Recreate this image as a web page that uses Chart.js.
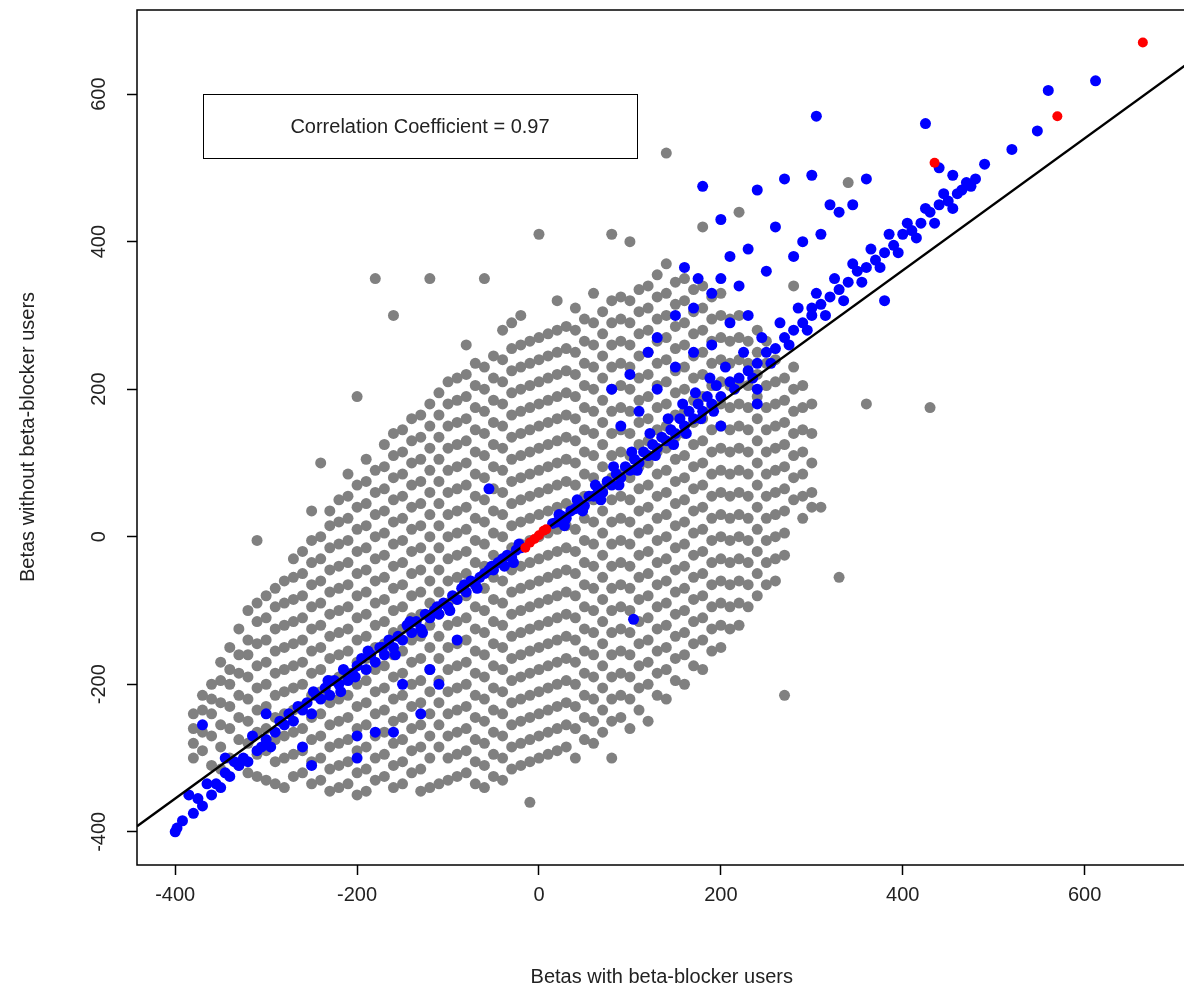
<!DOCTYPE html>
<html>
<head>
<meta charset="utf-8">
<script src="https://cdn.jsdelivr.net/npm/chart.js@4"></script>
<style>
  html, body { margin: 0; padding: 0; background: #fff; overflow: hidden; }
  #wrap { width: 1184px; height: 993px; overflow: hidden; }
</style>
</head>
<body>
<div id="wrap"><canvas id="betaChart" width="1192" height="993"></canvas></div>
<script>
// grey cloud: each row is [x, y1, y2, ...]
var greyColumns = [
  [-380, -300, -280, -260, -240],
  [-360, -310, -270, -240, -220, -200],
  [-340, -300, -260, -230, -200, -180, -150],
  [-320, -320, -280, -250, -220, -190, -160, -140, -100],
  [-300, -330, -290, -260, -230, -200, -170, -140, -110, -80],
  [-280, -340, -300, -270, -240, -210, -180, -150, -120, -90, -60],
  [-260, -320, -290, -260, -230, -200, -170, -140, -110, -80, -50, -20],
  [-240, -330, -300, -270, -240, -210, -180, -150, -120, -90, -60, -30, 0, 100],
  [-220, -340, -310, -280, -250, -220, -190, -160, -130, -100, -70, -40, -10, 20, 50],
  [-200, -350, -320, -290, -260, -230, -200, -170, -140, -110, -80, -50, -20, 10, 40, 70, 190],
  [-180, -330, -300, -270, -240, -210, -180, -150, -120, -90, -60, -30, 0, 30, 60, 90, 350],
  [-160, -340, -310, -280, -250, -220, -190, -160, -130, -100, -70, -40, -10, 20, 50, 80, 110, 140, 300],
  [-140, -320, -290, -260, -230, -200, -170, -140, -110, -80, -50, -20, 10, 40, 70, 100, 130, 160],
  [-120, -340, -300, -270, -240, -210, -180, -150, -120, -90, -60, -30, 0, 30, 60, 90, 120, 150, 180, 350],
  [-100, -330, -300, -270, -240, -210, -180, -150, -120, -90, -60, -30, 0, 30, 60, 90, 120, 150, 180, 210],
  [-80, -320, -290, -260, -230, -200, -170, -140, -110, -80, -50, -20, 10, 40, 70, 100, 130, 160, 190, 220, 260],
  [-60, -340, -310, -280, -250, -220, -190, -160, -130, -100, -70, -40, -10, 20, 50, 80, 110, 140, 170, 200, 230, 350],
  [-40, -330, -300, -270, -240, -210, -180, -150, -120, -90, -60, -30, 0, 30, 60, 90, 120, 150, 180, 210, 240, 280],
  [-20, -310, -280, -250, -220, -190, -160, -130, -100, -70, -40, -10, 20, 50, 80, 110, 140, 170, 200, 230, 260, 300],
  [0, -300, -270, -240, -210, -180, -150, -120, -90, -60, -30, 0, 30, 60, 90, 120, 150, 180, 210, 240, 270, 410],
  [20, -290, -260, -230, -200, -170, -140, -110, -80, -50, -20, 10, 40, 70, 100, 130, 160, 190, 220, 250, 280, 320],
  [40, -300, -260, -230, -200, -170, -140, -110, -80, -50, -20, 10, 40, 70, 100, 130, 160, 190, 220, 250, 280, 310],
  [60, -280, -250, -220, -190, -160, -130, -100, -70, -40, -10, 20, 50, 80, 110, 140, 170, 200, 230, 260, 290, 330],
  [80, -300, -250, -220, -190, -160, -130, -100, -70, -40, -10, 20, 50, 80, 110, 140, 170, 200, 230, 260, 290, 320, 410],
  [100, -260, -220, -190, -160, -130, -100, -70, -40, -10, 20, 50, 80, 110, 140, 170, 200, 230, 260, 290, 320, 400],
  [120, -250, -200, -170, -140, -110, -80, -50, -20, 10, 40, 70, 100, 130, 160, 190, 220, 250, 280, 310, 340],
  [140, -220, -180, -150, -120, -90, -60, -30, 0, 30, 60, 90, 120, 150, 180, 210, 240, 270, 300, 330, 370, 520],
  [160, -200, -160, -130, -100, -70, -40, -10, 20, 50, 80, 110, 140, 170, 200, 230, 260, 290, 320, 350],
  [180, -180, -140, -110, -80, -50, -20, 10, 40, 70, 100, 130, 160, 190, 220, 250, 280, 310, 340, 420],
  [200, -150, -120, -90, -60, -30, 0, 30, 60, 90, 120, 150, 180, 210, 240, 270, 300, 330],
  [220, -120, -90, -60, -30, 0, 30, 60, 90, 120, 150, 180, 210, 240, 270, 300, 440],
  [240, -80, -50, -20, 10, 40, 70, 100, 130, 160, 190, 220, 250, 280],
  [260, -60, -30, 0, 30, 60, 90, 120, 150, 180, 210, 240],
  [280, 50, 80, 110, 140, 170, 200, 230, 340],
  [300, 40, 60, 100, 140, 180]
];
// in-between columns that fill the gaps of the cloud
var greyColumnsB = [
  [-370, -290, -265, -235, -215],
  [-350, -315, -285, -255, -225, -195, -170],
  [-330, -310, -275, -245, -215, -185, -160, -125],
  [-310, -325, -295, -265, -235, -205, -175, -145, -115, -90],
  [-290, -335, -305, -275, -245, -215, -185, -155, -125, -95, -70],
  [-270, -325, -295, -265, -235, -205, -175, -145, -115, -85, -55, -30],
  [-250, -335, -305, -275, -245, -215, -185, -155, -125, -95, -65, -35, -5],
  [-230, -345, -315, -285, -255, -225, -195, -165, -135, -105, -75, -45, -15, 15, 35],
  [-210, -335, -305, -275, -245, -215, -185, -155, -125, -95, -65, -35, -5, 25, 55, 85],
  [-190, -345, -315, -285, -255, -225, -195, -165, -135, -105, -75, -45, -15, 15, 45, 75, 105],
  [-170, -325, -295, -265, -235, -205, -175, -145, -115, -85, -55, -25, 5, 35, 65, 95, 125],
  [-150, -335, -305, -275, -245, -215, -185, -155, -125, -95, -65, -35, -5, 25, 55, 85, 115, 145],
  [-130, -345, -315, -285, -255, -225, -195, -165, -135, -105, -75, -45, -15, 15, 45, 75, 105, 135, 165],
  [-110, -335, -285, -255, -225, -195, -165, -135, -105, -75, -45, -15, 15, 45, 75, 105, 135, 165, 195],
  [-90, -325, -295, -265, -235, -205, -175, -145, -115, -85, -55, -25, 5, 35, 65, 95, 125, 155, 185, 215],
  [-70, -335, -305, -275, -245, -215, -185, -155, -125, -95, -65, -35, -5, 25, 55, 85, 115, 145, 175, 205, 235],
  [-50, -325, -295, -265, -235, -205, -175, -145, -115, -85, -55, -25, 5, 35, 65, 95, 125, 155, 185, 215, 245],
  [-30, -315, -285, -255, -225, -195, -165, -135, -105, -75, -45, -15, 15, 45, 75, 105, 135, 165, 195, 225, 255, 290],
  [-10, -305, -275, -245, -215, -185, -155, -125, -95, -65, -35, -5, 25, 55, 85, 115, 145, 175, 205, 235, 265],
  [10, -295, -265, -235, -205, -175, -145, -115, -85, -55, -25, 5, 35, 65, 95, 125, 155, 185, 215, 245, 275],
  [30, -285, -255, -225, -195, -165, -135, -105, -75, -45, -15, 15, 45, 75, 105, 135, 165, 195, 225, 255, 285],
  [50, -275, -245, -215, -185, -155, -125, -95, -65, -35, -5, 25, 55, 85, 115, 145, 175, 205, 235, 265, 295],
  [70, -265, -235, -205, -175, -145, -115, -85, -55, -25, 5, 35, 65, 95, 125, 155, 185, 215, 245, 275, 305],
  [90, -245, -215, -185, -155, -125, -95, -65, -35, -5, 25, 55, 85, 115, 145, 175, 205, 235, 265, 295, 325],
  [110, -235, -205, -175, -145, -115, -85, -55, -25, 5, 35, 65, 95, 125, 155, 185, 215, 245, 275, 305, 335],
  [130, -215, -185, -155, -125, -95, -65, -35, -5, 25, 55, 85, 115, 145, 175, 205, 235, 265, 295, 325, 355],
  [150, -195, -165, -135, -105, -75, -45, -15, 15, 45, 75, 105, 135, 165, 195, 225, 255, 285, 315, 345],
  [170, -175, -145, -115, -85, -55, -25, 5, 35, 65, 95, 125, 155, 185, 215, 245, 275, 305, 335],
  [190, -155, -125, -95, -65, -35, -5, 25, 55, 85, 115, 145, 175, 205, 235, 265, 295, 325],
  [210, -125, -95, -65, -35, -5, 25, 55, 85, 115, 145, 175, 205, 235, 265, 295],
  [230, -95, -65, -35, -5, 25, 55, 85, 115, 145, 175, 205, 235, 265],
  [250, -65, -35, -5, 25, 55, 85, 115, 145, 175, 205, 235, 265],
  [270, -25, 5, 35, 65, 95, 125, 155, 185, 215],
  [290, 25, 55, 85, 115, 145, 175, 205]
];
var greyExtra = [
  [270, -215], [330, -55], [310, 40], [360, 180], [430, 175], [340, 480], [-310, -5], [-250, 35], [-10, -360]
];
var bluePoints = [
  [-400, -400], [-398, -395], [-392, -385], [-380, -375], [-375, -355], [-370, -365], [-360, -350], [-355, -335],
  [-350, -340], [-345, -320], [-340, -325], [-330, -310], [-325, -300], [-320, -305], [-310, -290], [-300, -275],
  [-295, -285], [-290, -265], [-280, -255], [-275, -240], [-270, -250], [-260, -235], [-255, -225], [-250, -240],
  [-245, -215], [-240, -220], [-235, -205], [-230, -215], [-225, -195], [-220, -200], [-215, -180], [-210, -195],
  [-205, -185], [-200, -175], [-195, -165], [-190, -180], [-185, -160], [-180, -170], [-175, -150], [-170, -160],
  [-165, -140], [-160, -150], [-155, -135], [-150, -140], [-145, -120], [-140, -130], [-135, -115], [-130, -125],
  [-125, -105], [-120, -110], [-115, -100], [-110, -105], [-105, -90], [-100, -95], [-95, -80], [-90, -85],
  [-85, -70], [-80, -75], [-75, -60], [-70, -65], [-65, -55], [-60, -50], [-55, -45], [-50, -45], [-45, -35],
  [-40, -30], [-35, -25], [-30, -28], [-25, -18], [-20, -15], [15, 18], [20, 20], [25, 28], [30, 25], [35, 35],
  [40, 38], [45, 45], [50, 42], [55, 55], [60, 55], [65, 65], [70, 60], [75, 75], [80, 70], [85, 85], [90, 80],
  [95, 95], [100, 90], [105, 105], [110, 100], [115, 115], [120, 110], [125, 125], [130, 120], [135, 135],
  [140, 130], [145, 145], [150, 140], [155, 160], [160, 150], [165, 170], [170, 160], [175, 180], [180, 170],
  [185, 190], [190, 180], [195, 205], [200, 190], [210, 210], [220, 215], [230, 225], [240, 235], [250, 250],
  [260, 255], [270, 270], [280, 280], [290, 290], [300, 300], [310, 315], [320, 325], [330, 335], [340, 345],
  [350, 360], [360, 365], [370, 375], [380, 385], [390, 395], [400, 410], [410, 415], [420, 425], [430, 440],
  [440, 450], [450, 455], [460, 465], [470, 480], [480, 485],
  [-370, -255], [-300, -240], [-250, -310], [-200, -300], [-180, -265], [-160, -265], [-130, -240], [-110, -200],
  [-150, -200], [-200, -270], [-260, -285], [-55, 65], [-120, -180], [-90, -140], [104, -112],
  [160, 365], [175, 350], [180, 475], [200, 430], [210, 380], [240, 470], [270, 485], [300, 490], [305, 570],
  [320, 450], [330, 440], [345, 450], [360, 485], [290, 400], [260, 420], [230, 390], [200, 350], [190, 330],
  [150, 300], [120, 250], [100, 220], [80, 200], [130, 270], [170, 310], [220, 340], [250, 360], [280, 380],
  [310, 410], [425, 560], [440, 500], [455, 490], [475, 475], [490, 505], [520, 525], [548, 550], [560, 605],
  [612, 618], [380, 320], [300, 310], [240, 180], [200, 150], [240, 200]
];
// second layer thickening the blue band
var bluePointsB = [
  [-385, -350], [-365, -335], [-345, -300], [-335, -305], [-315, -270], [-305, -285], [-285, -250], [-265, -230],
  [-248, -210], [-232, -195], [-218, -210], [-202, -190], [-188, -155], [-172, -150], [-158, -160], [-142, -115],
  [-128, -130], [-112, -95], [-98, -100], [-82, -65], [-68, -70], [-52, -40], [-38, -40], [-22, -10], [-28, -35],
  [22, 30], [28, 15], [42, 50], [48, 35], [62, 70], [68, 50], [82, 95], [88, 70], [102, 115], [108, 90],
  [122, 140], [128, 110], [142, 160], [148, 125], [158, 180], [162, 140], [172, 195], [178, 160], [188, 215],
  [192, 170], [205, 230], [215, 200], [225, 250], [235, 215], [245, 270], [255, 235], [265, 290], [275, 260],
  [285, 310], [295, 280], [305, 330], [315, 300], [325, 350], [335, 320], [345, 370], [355, 345], [365, 390],
  [375, 365], [385, 410], [395, 385], [405, 425], [415, 405], [425, 445], [435, 425], [445, 465], [455, 445],
  [465, 470], [130, 200], [150, 230], [170, 250], [190, 260], [210, 290], [230, 300], [110, 170], [90, 150]
];
var redPoints = [
  [-15, -15], [-10, -8], [-5, -3], [0, 2], [5, 8], [8, 10], [435, 507], [570, 570], [664, 670]
];
var fitSlope = 0.895;
var fitIntercept = 3;
var xTicks = [-400, -200, 0, 200, 400, 600];
var yTicks = [-400, -200, 0, 200, 400, 600];
var xRange = [-442, 712];
var yRange = [-445, 714];

function toXY(list) {
  return list.map(function (p) { return { x: p[0], y: p[1] }; });
}
function flattenColumns(cols) {
  var out = [];
  cols.forEach(function (col) {
    for (var i = 1; i < col.length; i++) out.push({ x: col[0], y: col[i] });
  });
  return out;
}
var greyData = flattenColumns(greyColumns).concat(flattenColumns(greyColumnsB), toXY(greyExtra));
var blueData = toXY(bluePoints).concat(toXY(bluePointsB));
var fitData = xRange.map(function (x) { return { x: x, y: fitSlope * x + fitIntercept }; });

var FONT = "'Liberation Sans', Arial, sans-serif";

var decorations = {
  id: 'decorations',
  afterDraw: function (chart) {
    var c = chart.ctx, a = chart.chartArea, ys = chart.scales.y;
    c.save();
    c.strokeStyle = '#000';
    c.lineWidth = 1.5;
    c.strokeRect(a.left, a.top, a.right - a.left, a.bottom - a.top);
    // y tick labels, rotated like R
    c.fillStyle = '#222';
    c.font = '20px ' + FONT;
    c.textAlign = 'center';
    c.textBaseline = 'middle';
    yTicks.forEach(function (v) {
      var py = ys.getPixelForValue(v);
      c.save();
      c.translate(99, py);
      c.rotate(-Math.PI / 2);
      c.fillText(String(v), 0, 0);
      c.restore();
    });
    c.save();
    c.translate(28, 437);
    c.rotate(-Math.PI / 2);
    c.fillText('Betas without beta-blocker users', 0, 0);
    c.restore();
    // correlation box
    c.fillStyle = '#fff';
    c.fillRect(203, 94, 434, 64);
    c.lineWidth = 1;
    c.strokeRect(203.5, 94.5, 434, 64);
    c.fillStyle = '#222';
    c.fillText('Correlation Coefficient = 0.97', 420, 127);
    c.restore();
  }
};

new Chart(document.getElementById('betaChart').getContext('2d'), {
  type: 'scatter',
  data: {
    datasets: [
      { data: greyData, backgroundColor: '#808080', pointRadius: 5.5, pointBorderWidth: 0, order: 4 },
      { data: blueData, backgroundColor: '#0000ff', pointRadius: 5.5, pointBorderWidth: 0, order: 3 },
      { type: 'line', data: fitData, borderColor: '#000', borderWidth: 2.5, pointRadius: 0, order: 2 },
      { data: toXY(redPoints), backgroundColor: '#ff0000', pointRadius: 5, pointBorderWidth: 0, order: 1 }
    ]
  },
  options: {
    responsive: false,
    animation: false,
    layout: { padding: { top: 10, right: 0, left: 0, bottom: 0 } },
    plugins: { legend: { display: false }, tooltip: { enabled: false } },
    scales: {
      x: {
        type: 'linear', min: xRange[0], max: xRange[1],
        afterBuildTicks: function (s) { s.ticks = xTicks.map(function (v) { return { value: v }; }); },
        afterFit: function (s) { s.height = 128; },
        grid: { drawOnChartArea: false, tickLength: 10, color: '#000', tickWidth: 1.5 },
        border: { display: false },
        ticks: { color: '#222', font: { size: 20, family: FONT }, padding: 8, maxRotation: 0 },
        title: { display: true, text: 'Betas with beta-blocker users', color: '#222', font: { size: 20, family: FONT }, padding: { top: 40 } }
      },
      y: {
        type: 'linear', min: yRange[0], max: yRange[1],
        afterBuildTicks: function (s) { s.ticks = yTicks.map(function (v) { return { value: v }; }); },
        afterFit: function (s) { s.width = 137; },
        grid: { drawOnChartArea: false, tickLength: 10, color: '#000', tickWidth: 1.5 },
        border: { display: false },
        ticks: { display: false }
      }
    }
  },
  plugins: [decorations]
});
</script>
</body>
</html>
